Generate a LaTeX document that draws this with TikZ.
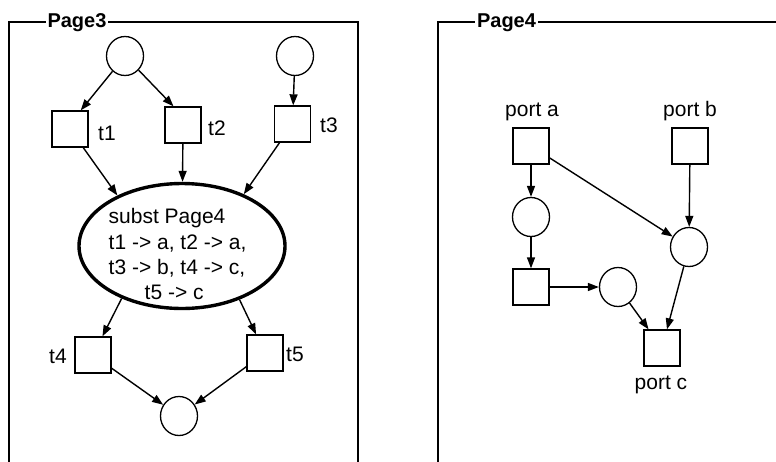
\documentclass[tikz,border=0pt]{standalone}
\usepackage{fontspec}
\setmainfont{Liberation Sans}
\usetikzlibrary{arrows.meta,shapes.geometric}

\begin{document}
\begin{tikzpicture}[x=1pt,y=-1pt,
  every node/.style={font=\fontsize{21}{25.3}\selectfont},
  place/.style={draw, ellipse, minimum width=37pt, minimum height=39pt, inner sep=0pt, line width=1.3pt},
  trans/.style={draw, rectangle, minimum size=36pt, inner sep=0pt, line width=1.3pt},
  lbl/.style={anchor=base, inner sep=0pt},
  pagelbl/.style={anchor=base, fill=white, inner xsep=2pt, inner ysep=0pt, font=\fontsize{20}{22}\selectfont\bfseries},
  frame/.style={line width=1.4pt},
  arc/.style={-{Triangle[length=11pt,width=8pt]}, line width=1.4pt}]

\useasboundingbox (0,0) rectangle (776,461);
\clip (0,0) rectangle (776,461);

% ---- frames ----
\draw[frame] (9,475) -- (9,22) -- (358,22) -- (358,475);
\node[pagelbl] (page3) at (77,27.5) {Page3};
\draw[frame] (438,475) -- (438,22) -- (790,22);
\node[pagelbl] (page4) at (506.5,27.5) {Page4};

% ---- Page3 net ----
\node[place] (p1) at (125,56) {};
\node[place] (p2) at (295,56) {};
\node[trans] (t1) at (70,129) {};
\node[trans] (t2) at (183,125) {};
\node[trans] (t3) at (292.5,124) {};
\node[lbl] (t1l) at (107,140) {t1};
\node[lbl] (t2l) at (217,135) {t2};
\node[lbl] (t3l) at (329,132.7) {t3};

\node[draw, ellipse, line width=3.4pt, minimum width=206pt, minimum height=125pt, inner sep=0pt] (subst) at (182,246) {};
\node[anchor=north west, inner sep=0pt, align=left] (substtext) at (108.5,208.5)
  {subst Page4\\t1 -> a, t2 -> a,\\t3 -> b, t4 -> c,\\\hspace*{36pt}t5 -> c};

\node[trans] (t4) at (93,355) {};
\node[trans] (t5) at (265,353) {};
\node[lbl] (t4l) at (58,363.3) {t4};
\node[lbl] (t5l) at (295,361.7) {t5};
\node[place] (p3) at (179,416) {};

\draw[arc] (p1) -- (t1.60);
\draw[arc] (p1) -- (t2.117);
\draw[arc] (p2) -- (t3);
\draw[arc] (t1) -- (subst.142);
\draw[arc] (t2) -- (subst);
\draw[arc] (t3) -- (subst.40);
\draw[arc] (subst.221) -- (t4);
\draw[arc] (subst.317) -- (t5);
\draw[arc] (t4) -- (p3);
\draw[arc] (t5) -- (p3);

% ---- Page4 net ----
\node[trans] (pa) at (531,146) {};
\node[trans] (pb) at (690,146) {};
\node[lbl] (pal) at (532,116.5) {port a};
\node[lbl] (pbl) at (690,116.5) {port b};
\node[place] (q1) at (531,217) {};
\node[place] (q2) at (689,247) {};
\node[trans] (tm) at (531,287) {};
\node[place] (q3) at (618,287) {};
\node[trans] (pc) at (662,348) {};
\node[lbl] (pcl) at (661,389) {port c};

\draw[arc] (pa) -- (q1);
\draw[arc] (pa) -- (q2);
\draw[arc] (pb) -- (q2);
\draw[arc] (q1) -- (tm);
\draw[arc] (tm) -- (q3);
\draw[arc] (q3) -- (pc);
\draw[arc] (q2) -- (pc);
\end{tikzpicture}
\end{document}
